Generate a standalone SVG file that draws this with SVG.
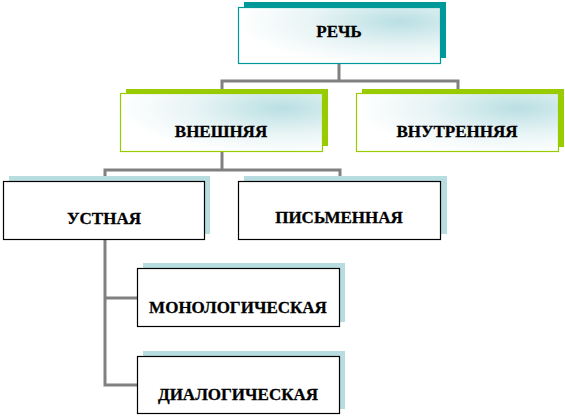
<svg xmlns="http://www.w3.org/2000/svg" width="565" height="417" viewBox="0 0 565 417">
<defs>
<radialGradient id="g" cx="0.8" cy="0.25" r="0.8" fx="0.8" fy="0.25">
<stop offset="0" stop-color="#b9dfe3"/>
<stop offset="0.55" stop-color="#e8f4f5"/>
<stop offset="1" stop-color="#ffffff"/>
</radialGradient>
</defs>
<style>
.conn{fill:none;stroke:#808080;stroke-width:3}
.sh-teal{fill:#009999}
.sh-green{fill:#99cc00}
.sh-blue{fill:#b7dde0}
.b-teal{fill:url(#g);stroke:#009999;stroke-width:1.2}
.b-green{fill:url(#g);stroke:#99cc00;stroke-width:1.2}
.b-black{fill:#ffffff;stroke:#000000;stroke-width:1.2}
.t{font-family:'Liberation Serif','Times New Roman',Times,serif;font-weight:700;font-size:17px;fill:#000;text-anchor:middle;stroke:#000;stroke-width:0.3}
</style>
<rect width="565" height="417" fill="#ffffff"/>
<g id="connectors">
<polyline class="conn" points="339,63 339,81"/>
<polyline class="conn" points="222,89 222,81 458,81 458,89"/>
<polyline class="conn" points="222,151 222,170"/>
<polyline class="conn" points="105,176 105,170 340,170 340,176"/>
<polyline class="conn" points="105,239 105,385 137,385"/>
<polyline class="conn" points="105,298 137,298"/>
</g>
<g id="node-rech">
<rect class="sh-teal" x="244" y="2" width="202" height="56"/>
<rect class="b-teal" x="238.5" y="7.5" width="202" height="56"/>
<text class="t" x="339" y="37">РЕЧЬ</text>
</g>
<g id="node-vneshnyaya">
<rect class="sh-green" x="126" y="89" width="202" height="57"/>
<rect class="b-green" x="120.5" y="93.5" width="202" height="58"/>
<text class="t" x="221" y="137">ВНЕШНЯЯ</text>
</g>
<g id="node-vnutrennyaya">
<rect class="sh-green" x="362" y="89" width="202" height="58"/>
<rect class="b-green" x="356.5" y="93.5" width="202" height="58"/>
<text class="t" x="457" y="137">ВНУТРЕННЯЯ</text>
</g>
<g id="node-ustnaya">
<rect class="sh-blue" x="9" y="176" width="201" height="58"/>
<rect class="b-black" x="3.5" y="181.5" width="201" height="58"/>
<text class="t" x="104" y="224">УСТНАЯ</text>
</g>
<g id="node-pismennaya">
<rect class="sh-blue" x="244" y="176" width="203" height="58"/>
<rect class="b-black" x="238.5" y="181.5" width="202" height="58"/>
<text class="t" x="339" y="223">ПИСЬМЕННАЯ</text>
</g>
<g id="node-monologicheskaya">
<rect class="sh-blue" x="143" y="263" width="202" height="59"/>
<rect class="b-black" x="137.5" y="268.5" width="202" height="58"/>
<text class="t" x="238" y="313">МОНОЛОГИЧЕСКАЯ</text>
</g>
<g id="node-dialogicheskaya">
<rect class="sh-blue" x="143" y="351" width="202" height="58"/>
<rect class="b-black" x="137.5" y="356.5" width="202" height="57"/>
<text class="t" x="238" y="400">ДИАЛОГИЧЕСКАЯ</text>
</g>
</svg>
